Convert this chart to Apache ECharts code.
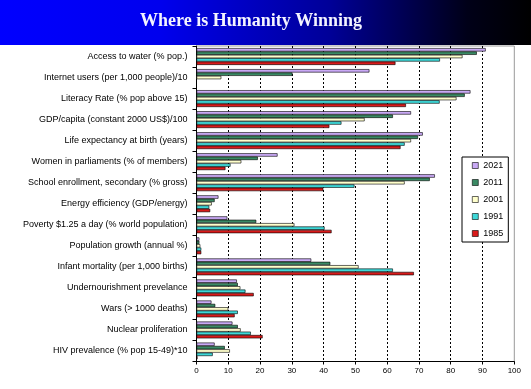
<!DOCTYPE html>
<html><head><meta charset="utf-8">
<script src="https://cdn.jsdelivr.net/npm/echarts@6/dist/echarts.min.js"></script>
<style>html,body{margin:0;padding:0;background:#fff}#c{width:531px;height:389px}</style>
</head><body><div id="c"></div>
<script>
const titleText = 'Where is Humanity Winning';
const categories = [
  'Access to water (% pop.)',
  'Internet users (per 1,000 people)/10',
  'Literacy Rate (% pop above 15)',
  'GDP/capita (constant 2000 US$)/100',
  'Life expectancy at birth (years)',
  'Women in parliaments (% of members)',
  'School enrollment, secondary (% gross)',
  'Energy efficiency (GDP/energy)',
  'Poverty $1.25 a day (% world population)',
  'Population growth (annual %)',
  'Infant mortality (per 1,000 births)',
  'Undernourishment prevelance',
  'Wars (> 1000 deaths)',
  'Nuclear proliferation',
  'HIV prevalence (% pop 15-49)*10'
];
const years = ['2021', '2011', '2001', '1991', '1985'];
const v2021 = [91, 54.4, 86.2, 67.5, 71.2, 25.5, 75, 6.9, 9.7, 0.9, 36.1, 12.7, 4.7, 11.3, 5.7];
const v2011 = [88.2, 30.2, 84.4, 61.8, 69.7, 19.3, 73.4, 5.7, 18.8, 0.9, 42.1, 13, 5.9, 13, 8.9];
const v2001 = [83.7, 7.8, 81.8, 52.9, 67.5, 14.1, 65.5, 4.8, 30.8, 1.2, 51, 13.8, 10, 13.9, 10.5];
const v1991 = [76.6, 0, 76.5, 45.6, 65.5, 10.7, 49.7, 4.0, 40.3, 1.5, 61.8, 15.4, 13, 17.1, 5.1];
const v1985 = [62.6, 0, 65.9, 41.8, 64.2, 9.1, 39.9, 4.3, 42.5, 1.5, 68.4, 18, 12, 20.8, 0.3];
const xTicks = [0, 10, 20, 30, 40, 50, 60, 70, 80, 90, 100];

const seriesValues = [v2021, v2011, v2001, v1991, v1985];
const colors = ['#C9A9F5', '#3A8A64', '#FFFFCC', '#3ED8D8', '#D91A1A'];

const chart = echarts.init(document.getElementById('c'), null, {renderer: 'canvas'});
chart.setOption({
  animation: false,
  backgroundColor: '#fff',
  graphic: [
    {type: 'rect', left: 0, top: 0, z: 0, shape: {width: 531, height: 45},
     style: {fill: new echarts.graphic.LinearGradient(0, 0, 1, 0, [
       {offset: 0, color: '#0000ff'}, {offset: 0.3, color: '#0000ee'},
       {offset: 0.62, color: '#000098'}, {offset: 0.88, color: '#000018'}, {offset: 1, color: '#000000'}])}},
    {type: 'text', x: 251, y: 21, z: 1,
     style: {text: titleText, fill: '#f4f4ff', font: 'bold 18px "Liberation Serif", "Times New Roman", serif',
       textAlign: 'center', textVerticalAlign: 'middle'}}
  ],
  legend: {
    data: years,
    orient: 'vertical',
    left: 462, top: 157,
    itemWidth: 6, itemHeight: 6, itemGap: 6,
    padding: [3, 5, 3, 10],
    backgroundColor: '#fff',
    borderColor: '#000', borderWidth: 1,
    textStyle: {fontSize: 9, color: '#000', fontFamily: '"Liberation Sans", Arial, sans-serif', lineHeight: 11},
    itemStyle: {borderWidth: 0.6, borderColor: '#000'},
    icon: 'rect'
  },
  grid: {left: 196.5, right: 16.7, top: 46, bottom: 27.5, show: true, borderColor: '#999', borderWidth: 1, containLabel: false},
  xAxis: {
    type: 'value', min: 0, max: 100, interval: 10,
    axisLine: {show: true, lineStyle: {color: '#000', width: 1}},
    axisTick: {show: true, length: 3, lineStyle: {color: '#000'}},
    axisLabel: {fontSize: 8, color: '#000', margin: 5, fontFamily: '"Liberation Sans", Arial, sans-serif',
      formatter: v => xTicks.includes(v) ? String(v) : ''},
    splitLine: {show: true, showMinLine: false, showMaxLine: false, lineStyle: {color: '#000', type: [2, 2], width: 1}}
  },
  yAxis: {
    type: 'category', data: categories, inverse: true,
    axisLine: {show: true, onZero: false, lineStyle: {color: '#000', width: 1}},
    axisTick: {show: true, length: 4, lineStyle: {color: '#000'}},
    axisLabel: {fontSize: 9, color: '#000', margin: 9, fontFamily: '"Liberation Sans", Arial, sans-serif'},
    splitLine: {show: false}
  },
  series: years.map((y, i) => ({
    name: y, type: 'bar', data: seriesValues[i],
    barGap: '0%', barCategoryGap: '20%',
    itemStyle: {color: colors[i], borderColor: '#000', borderWidth: 0.6}
  }))
});
</script>
</body></html>
